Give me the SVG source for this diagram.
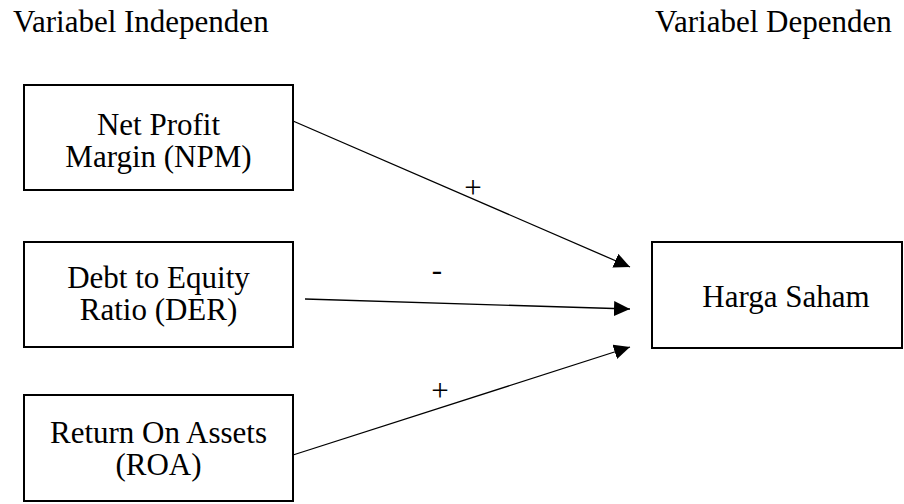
<svg xmlns="http://www.w3.org/2000/svg" width="904" height="504" viewBox="0 0 904 504">
<style>
.box{fill:#fff;stroke:#000;stroke-width:2}
.ln{stroke:#000;stroke-width:1.3;fill:none}
</style>
<defs>
<marker id="ah" markerUnits="userSpaceOnUse" markerWidth="17" markerHeight="16" refX="16" refY="7.5" orient="auto">
<path d="M0,0 L16,7.5 L0,15 z" fill="#000"/>
</marker>
</defs>
<rect width="904" height="504" fill="#fff"/>
<g id="titles">
<text x="13" y="32" font-family="Liberation Serif, serif" font-size="31">Variabel Independen</text>
<text x="655" y="32" font-family="Liberation Serif, serif" font-size="31">Variabel Dependen</text>
</g>
<g id="npm">
<rect class="box" x="24" y="85" width="269" height="105"/>
<text x="158.5" y="135" text-anchor="middle" font-family="Liberation Serif, serif" font-size="31">Net Profit</text>
<text x="158.5" y="167" text-anchor="middle" font-family="Liberation Serif, serif" font-size="31">Margin (NPM)</text>
</g>
<g id="der">
<rect class="box" x="24" y="242" width="269" height="105"/>
<text x="158.5" y="288" text-anchor="middle" font-family="Liberation Serif, serif" font-size="31">Debt to Equity</text>
<text x="158.5" y="320" text-anchor="middle" font-family="Liberation Serif, serif" font-size="31">Ratio (DER)</text>
</g>
<g id="roa">
<rect class="box" x="24" y="395" width="269" height="106"/>
<text x="158.5" y="443" text-anchor="middle" font-family="Liberation Serif, serif" font-size="31">Return On Assets</text>
<text x="158.5" y="475" text-anchor="middle" font-family="Liberation Serif, serif" font-size="31">(ROA)</text>
</g>
<g id="harga">
<rect class="box" x="652" y="242" width="250" height="106"/>
<text x="786" y="307" text-anchor="middle" font-family="Liberation Serif, serif" font-size="31">Harga Saham</text>
</g>
<g id="connectors">
<line class="ln" x1="293" y1="121" x2="630" y2="267" marker-end="url(#ah)"/>
<line class="ln" x1="305" y1="299" x2="630" y2="309" marker-end="url(#ah)"/>
<line class="ln" x1="293" y1="455" x2="630" y2="347" marker-end="url(#ah)"/>
<text x="473" y="198" text-anchor="middle" font-family="Liberation Serif, serif" font-size="31">+</text>
<text x="437" y="280" text-anchor="middle" font-family="Liberation Serif, serif" font-size="31">-</text>
<text x="440" y="401" text-anchor="middle" font-family="Liberation Serif, serif" font-size="31">+</text>
</g>
</svg>
